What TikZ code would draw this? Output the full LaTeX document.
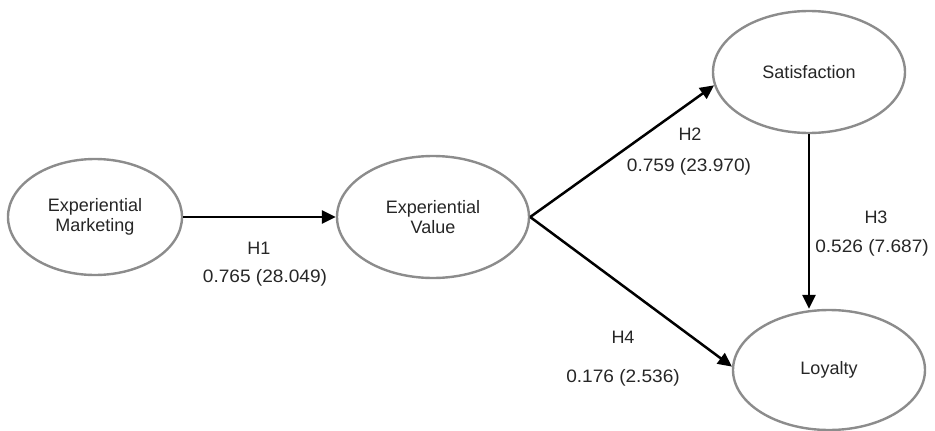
\documentclass[tikz,border=0pt]{standalone}
\usepackage{fontspec}
\setmainfont{Liberation Sans}
\newfontfamily\numfont[FakeStretch=1.06]{Liberation Sans}
\usetikzlibrary{shapes.geometric,arrows.meta}
\definecolor{ringgray}{HTML}{8C8C8C}
\definecolor{txtgray}{HTML}{262626}
\tikzset{
  construct/.style={ellipse, draw=ringgray, line width=2.4pt, fill=white,
    inner sep=0pt, align=center, text=txtgray,
    font=\fontsize{18}{20.5}\selectfont},
  path arrow/.style={line width=2.5pt, black,
    -{Triangle[length=14pt,width=13pt]}},
  hyp/.style={anchor=base, text=txtgray, inner sep=0pt,
    font=\fontsize{18}{20}\selectfont},
  coef/.style={anchor=base, text=txtgray, inner sep=0pt,
    font=\fontsize{18}{20}\numfont}
}
\begin{document}
\begin{tikzpicture}[x=1pt,y=-1pt]
\useasboundingbox (0,0) rectangle (935,431);
\node[construct, minimum width=174pt, minimum height=116pt] (em) at (95,217) {Experiential\\Marketing};
\node[construct, minimum width=192pt, minimum height=122pt] (ev) at (433,217) {Experiential\\Value};
\node[construct, minimum width=192pt, minimum height=122pt] (sat) at (809,72) {Satisfaction};
\node[construct, minimum width=192pt, minimum height=120pt] (loy) at (829,370) {Loyalty};

\draw[path arrow] (em.east) -- (ev.west);
\draw[path arrow] (ev.east) -- (sat.188);
\draw[path arrow] (ev.east) -- (loy.178);
\draw[path arrow] (sat.south) -- (sat.south |- loy.north);

\node[hyp] (h1) at (259,254) {H1};
\node[coef] (c1) at (265,282) {0.765 (28.049)};
\node[hyp] (h2) at (690,140) {H2};
\node[coef] (c2) at (689,171) {0.759 (23.970)};
\node[hyp] (h3) at (876,223) {H3};
\node[coef] (c3) at (872,252) {0.526 (7.687)};
\node[hyp] (h4) at (623,343) {H4};
\node[coef] (c4) at (623,382) {0.176 (2.536)};
\end{tikzpicture}
\end{document}
